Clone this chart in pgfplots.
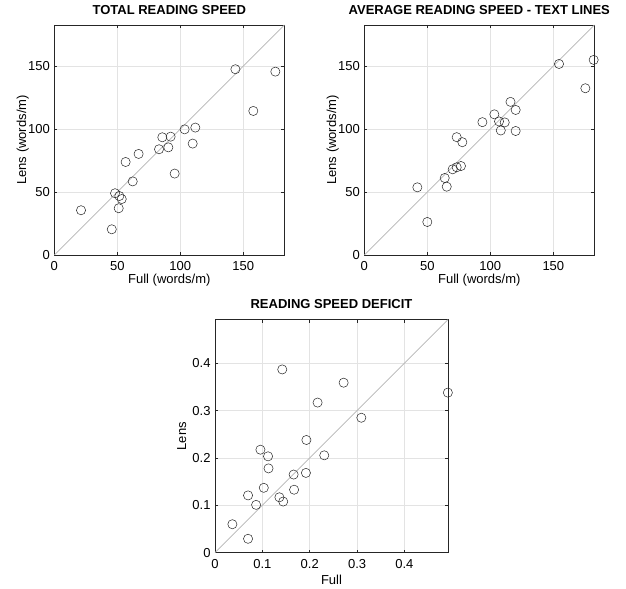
\documentclass[border=0pt]{standalone}
\usepackage{pgfplots}
\pgfplotsset{compat=1.18}
\usepackage{fontspec}
\setmainfont{Liberation Sans}
\definecolor{axc}{HTML}{262626}
\definecolor{gridc}{HTML}{E3E3E3}
\definecolor{diagc}{HTML}{B4B4B4}

\pgfplotsset{
  matl/.style={
    scale only axis, clip=false,
    font=\fontsize{13bp}{15bp}\selectfont,
    /pgf/number format/assume math mode=true,
    axis line style={draw=axc, line width=0.6bp},
    grid=major, grid style={draw=gridc, line width=0.6bp},
    tick align=inside, major tick length=3bp,
    tick style={draw=axc, line width=0.6bp},
    title style={font=\bfseries\fontsize{13bp}{15bp}\selectfont,
      at={(axis description cs:0.5,1)}, anchor=base, yshift=5bp, inner sep=0pt},
    xticklabel style={anchor=base, yshift=-16bp, inner sep=0pt},
    yticklabel style={anchor=east, inner sep=4.3bp},
  },
  pts/.style={only marks, mark=o, mark size=4.6bp,
    mark options={draw=black!85, line width=0.5bp}},
  diag/.style={no marks, draw=diagc, line width=0.7bp},
}

\begin{document}
\begin{tikzpicture}
\useasboundingbox (0,0) rectangle (626bp,589bp);

% top left
\begin{axis}[matl, at={(54.3bp,334bp)}, anchor=south west,
  width=230bp, height=230bp,
  xmin=0, xmax=182.5, ymin=0, ymax=182.5,
  xtick={0,50,100,150}, ytick={0,50,100,150},
  title={TOTAL READING SPEED},
  xlabel={Full (words/m)}, ylabel={Lens (words/m)},
  xlabel style={at={(axis description cs:0.5,-0.126)}, anchor=base, inner sep=0pt},
  ylabel style={at={(axis description cs:-0.122,0.5)}, anchor=base, inner sep=0pt}]
\addplot[diag] coordinates {(0,0) (182.5,182.5)};
\addplot[pts] coordinates {
(21.2,35.5) (45.6,20.4) (48.2,49.0) (51.6,46.8) (53.5,44.4)
(51.1,37.1) (56.6,73.8) (62.2,58.4) (66.9,80.2) (83.1,83.9)
(85.7,93.4) (90.5,85.4) (92.3,93.9) (95.5,64.6) (103.4,99.7)
(109.8,88.4) (111.9,101.1) (143.7,147.4) (157.9,114.3) (175.4,145.5)};
\end{axis}

% top right
\begin{axis}[matl, at={(364.3bp,334bp)}, anchor=south west,
  width=230bp, height=230bp,
  xmin=0, xmax=182.5, ymin=0, ymax=182.5,
  xtick={0,50,100,150}, ytick={0,50,100,150},
  title={AVERAGE READING SPEED - TEXT LINES},
  xlabel={Full (words/m)}, ylabel={Lens (words/m)},
  xlabel style={at={(axis description cs:0.5,-0.126)}, anchor=base, inner sep=0pt},
  ylabel style={at={(axis description cs:-0.122,0.5)}, anchor=base, inner sep=0pt}]
\addplot[diag] coordinates {(0,0) (182.5,182.5)};
\addplot[pts] coordinates {
(42.1,53.7) (50.0,26.2) (63.8,61.1) (65.4,54.2) (70.1,68.0)
(73.3,69.6) (76.7,70.6) (73.3,93.5) (77.8,89.5) (93.7,105.4)
(103.2,111.6) (106.9,106.0) (108.3,98.8) (111.4,105.2) (116.0,121.5)
(120.1,115.1) (120.1,98.4) (154.5,151.6) (175.4,132.3) (182.0,154.8)};
\end{axis}

% bottom
\begin{axis}[matl, at={(215bp,36.3bp)}, anchor=south west,
  width=233bp, height=233bp,
  xmin=0, xmax=0.492, ymin=0, ymax=0.492,
  xtick={0,0.1,0.2,0.3,0.4}, ytick={0,0.1,0.2,0.3,0.4},
  title={READING SPEED DEFICIT},
  xlabel={Full}, ylabel={Lens},
  xlabel style={at={(axis description cs:0.5,-0.135)}, anchor=base, inner sep=0pt},
  ylabel style={at={(axis description cs:-0.124,0.5)}, anchor=base, inner sep=0pt}]
\addplot[diag] coordinates {(0,0) (0.492,0.492)};
\addplot[pts] coordinates {
(0.0367,0.0601) (0.0698,0.0294) (0.0698,0.121) (0.0868,0.101) (0.0959,0.2175)
(0.103,0.137) (0.112,0.2035) (0.113,0.178) (0.136,0.117) (0.144,0.108)
(0.142,0.387) (0.166,0.165) (0.167,0.133) (0.192,0.1685) (0.193,0.238)
(0.2166,0.317) (0.2307,0.2056) (0.2716,0.359) (0.309,0.285) (0.4917,0.338)};
\end{axis}
\end{tikzpicture}
\end{document}
